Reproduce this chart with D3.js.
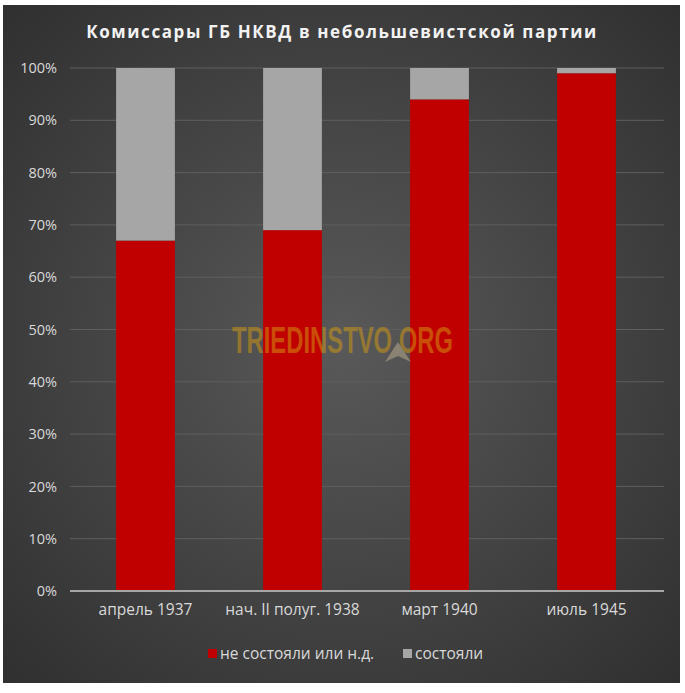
<!DOCTYPE html>
<html><head><meta charset="utf-8">
<script src="https://cdn.jsdelivr.net/npm/d3@7"></script>
<style>
html,body{margin:0;padding:0;background:#fff;}
svg{display:block;}
</style></head>
<body>
<script>
const categories = ["апрель 1937", "нач. II полуг. 1938", "март 1940", "июль 1945"];
const notMember = [67, 69, 94, 99];
const member = [33, 31, 6, 1];
const seriesNames = ["не состояли или н.д.", "состояли"];
const seriesColors = ["#c00000", "#a6a6a6"];
const yTicks = [0, 10, 20, 30, 40, 50, 60, 70, 80, 90, 100];
const title = "Комиссары ГБ НКВД в небольшевистской партии";

const W = 685, H = 693;
const svg = d3.select("body").append("svg").attr("width", W).attr("height", H);
const defs = svg.append("defs");
const grad = defs.append("radialGradient").attr("id", "bg").attr("cx", "50%").attr("cy", "50%").attr("r", "70%");
grad.append("stop").attr("offset", "0%").attr("stop-color", "#595959");
grad.append("stop").attr("offset", "100%").attr("stop-color", "#303030");

svg.append("rect").attr("x", 3).attr("y", 5).attr("width", 677).attr("height", 678).attr("fill", "url(#bg)");

const font = "'Open Sans', 'DejaVu Sans', sans-serif";
svg.append("text").attr("x", 342).attr("y", 38).attr("text-anchor", "middle")
  .attr("font-family", font).attr("font-weight", "bold").attr("font-size", 17)
  .attr("letter-spacing", 1.6).attr("fill", "#f2f2f2").text(title);

const x = d3.scaleBand().domain(categories).range([72, 660]).paddingInner(0.6).paddingOuter(0.3);
const y = d3.scaleLinear().domain([0, 100]).range([591, 68]);

const grid = svg.append("g");
grid.selectAll("line").data(yTicks.filter(d => d > 0)).join("line")
  .attr("x1", 70).attr("x2", 664).attr("y1", d => y(d)).attr("y2", d => y(d))
  .attr("stroke", "#5f5f5f").attr("stroke-width", 1);

const yAxis = d3.axisLeft(y).tickValues(yTicks).tickFormat(d => d + "%").tickSize(0).tickPadding(11);
const ya = svg.append("g").attr("transform", "translate(68,0)").call(yAxis);
ya.select(".domain").remove();
ya.selectAll("text").attr("font-family", font).attr("font-size", 14.5).attr("fill", "#d9d9d9");

const stacked = categories.map((c, i) => ({c, a: notMember[i], b: member[i]}));
const bars = svg.append("g");
bars.selectAll(".r").data(stacked).join("rect").attr("class", "r")
  .attr("x", d => x(d.c)).attr("width", x.bandwidth())
  .attr("y", d => y(d.a)).attr("height", d => y(0) - y(d.a)).attr("fill", seriesColors[0]);
bars.selectAll(".g").data(stacked).join("rect").attr("class", "g")
  .attr("x", d => x(d.c)).attr("width", x.bandwidth())
  .attr("y", d => y(d.a + d.b)).attr("height", d => y(d.a) - y(d.a + d.b)).attr("fill", seriesColors[1]);

const xAxis = d3.axisBottom(x).tickSize(0).tickPadding(13);
const xa = svg.append("g").attr("transform", `translate(0,${y(0)})`).call(xAxis);
xa.select(".domain").attr("d", `M70,0H664`).attr("stroke", "#a6a6a6").attr("stroke-width", 2);
xa.selectAll("text").attr("font-family", font).attr("font-size", 15.5).attr("fill", "#d9d9d9");

// watermark
const wm = svg.append("g").attr("opacity", 0.5);
wm.append("text").attr("x", 232).attr("y", 353)
  .attr("textLength", 221).attr("lengthAdjust", "spacingAndGlyphs")
  .attr("font-family", "'Liberation Sans', 'DejaVu Sans', sans-serif")
  .attr("font-weight", "bold").attr("font-size", 36).attr("fill", "#d49a10").text("TRIEDINSTVO.ORG");
wm.append("path").attr("d", "M398,342 L411,362 L398,356 L385,362 Z").attr("fill", "#c0b090");

// legend
const leg = svg.append("g").attr("font-family", font).attr("font-size", 15.5).attr("fill", "#d9d9d9");
const legItems = [{n: seriesNames[0], c: seriesColors[0], x: 208}, {n: seriesNames[1], c: seriesColors[1], x: 403}];
legItems.forEach(it => {
  leg.append("rect").attr("x", it.x).attr("y", 649).attr("width", 9).attr("height", 9).attr("fill", it.c);
  leg.append("text").attr("x", it.x + 12).attr("y", 659).text(it.n);
});
</script>
</body></html>
